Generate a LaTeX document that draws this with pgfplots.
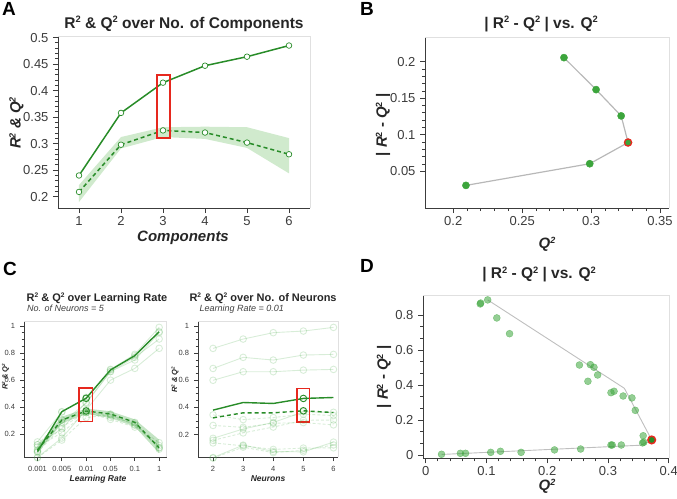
\documentclass[border=0pt]{standalone}
\usepackage{fontspec}
\setmainfont{Liberation Sans}
\usepackage{pgfplots}
\pgfplotsset{compat=1.18}
\definecolor{mg}{RGB}{40,140,40}
\definecolor{pg}{RGB}{60,165,60}
\definecolor{rd}{RGB}{230,40,30}
\definecolor{ax}{RGB}{60,60,60}
\definecolor{band}{RGB}{208,234,205}
\definecolor{fg}{RGB}{60,165,60}
\newcommand{\fs}[1]{\fontsize{#1}{#1}\selectfont}
\newcommand{\sq}{\raisebox{0.62ex}{\scalebox{0.6}{2}}}
\pgfplotsset{
  base/.style={scale only axis, anchor=south west,
    axis x line*=bottom, axis y line*=left,
    axis line style={ax, line width=0.8pt},
    tick align=outside, tick style={ax, line width=0.8pt},
    major tick length=5pt, minor tick length=3pt,
    tick label style={color=ax},
    /pgf/number format/assume math mode=true,
    /pgf/number format/fixed,
    clip=false,
    after end axis/.code={\draw[black!12, line width=0.8pt] (rel axis cs:0,1) -- (rel axis cs:1,1) -- (rel axis cs:1,0);}
  },
  faint/.style={fg, opacity=0.2, line width=0.9pt, mark=o, mark size=3.3pt},
  faintd/.style={fg, opacity=0.2, line width=0.9pt, dash pattern=on 3pt off 2pt, mark=o, mark size=3.3pt, mark options={solid}},
}
\begin{document}
\begin{tikzpicture}[x=1pt,y=1pt]

% ---------------- Panel A ----------------
\begin{axis}[base, at={(58pt,-208pt)}, width=252pt, height=172pt,
  xmin=0.5, xmax=6.5, ymin=0.1787, ymax=0.503,
  xtick={1,2,3,4,5,6}, ytick={0.2,0.25,0.3,0.35,0.4,0.45,0.5},
  minor y tick num=4, tick label style={font=\fs{13}},
  yticklabel style={xshift=-1pt}]
\addplot[fill=band, draw=none] coordinates {(1,0.222)(2,0.3125)(3,0.331)(4,0.332)(5,0.331)(6,0.3105)(6,0.244)(5,0.292)(4,0.309)(3,0.3125)(2,0.291)(1,0.19)};
\addplot[mg, line width=1.5pt, mark=*, mark size=2.8pt, mark options={fill=white, draw=mg, line width=0.7pt}]
  coordinates {(1,0.240)(2,0.358)(3,0.415)(4,0.447)(5,0.464)(6,0.485)};
\addplot[mg, line width=1.5pt, dash pattern=on 4pt off 3pt, mark=*, mark size=2.8pt, mark options={solid, fill=white, draw=mg, line width=0.7pt}]
  coordinates {(1,0.209)(2,0.298)(3,0.325)(4,0.321)(5,0.302)(6,0.280)};
\draw[rd, line width=1.7pt] (axis cs:2.85,0.311) rectangle (axis cs:3.17,0.43);
\end{axis}

% ---------------- Panel B ----------------
\begin{axis}[base, at={(425pt,-208pt)}, width=244pt, height=171pt,
  xmin=0.1795, xmax=0.3565, ymin=0, ymax=0.2337,
  xtick={0.2,0.25,0.3,0.35}, ytick={0.05,0.1,0.15,0.2},
  minor x tick num=4, minor y tick num=4, tick label style={font=\fs{13}},
  yticklabel style={xshift=-1pt}]
\addplot[black!28, line width=1.2pt] coordinates {(0.2092,0.0309)(0.2990,0.0605)(0.3268,0.0895)(0.3218,0.1259)(0.3036,0.1618)(0.2803,0.2055)};
\addplot[only marks, mark=*, mark size=3.6pt, pg] coordinates {(0.2092,0.0309)(0.2990,0.0605)(0.3218,0.1259)(0.3036,0.1618)(0.2803,0.2055)};
\addplot[only marks, mark=*, mark size=3.6pt, mark options={fill=pg, draw=rd, line width=1.3pt}] coordinates {(0.3268,0.0895)};
\end{axis}

% ---------------- Panel C left ----------------
\begin{axis}[base, at={(24pt,-457pt)}, width=142.7pt, height=136pt,
  xmin=-0.554, xmax=5.31, ymin=0.032, ymax=1.037,
  xtick={0,1,2,3,4,5}, xticklabels={0.001,0.005,0.01,0.05,0.1,1},
  ytick={0.2,0.4,0.6,0.8,1}, minor y tick num=3,
  major tick length=4pt, minor tick length=2.5pt,
  tick label style={font=\fs{7.5}},
  xticklabel style={yshift=-1.5pt}, yticklabel style={xshift=-1.5pt}]
\addplot[fill=fg, opacity=0.3, draw=none] coordinates {(0,0.11)(1,0.33)(2,0.39)(3,0.37)(4,0.31)(5,0.16)(5,0.06)(4,0.256)(3,0.32)(2,0.35)(1,0.28)(0,0.06)};
% faint R2 series (neurons 2,3,4,6)
\addplot[faint] coordinates {(0,0.03)(1,0.172)(2,0.38)(3,0.60)(4,0.687)(5,0.835)};
\addplot[faint] coordinates {(0,0.122)(1,0.241)(2,0.436)(3,0.663)(4,0.769)(5,0.904)};
\addplot[faint] coordinates {(0,0.075)(1,0.289)(2,0.429)(3,0.663)(4,0.749)(5,0.951)};
\addplot[faint] coordinates {(0,0.144)(1,0.364)(2,0.473)(3,0.68)(4,0.791)(5,0.99)};
\addplot[faint, draw=none] coordinates {(0,0.072)(1,0.367)(2,0.466)(3,0.675)(4,0.781)(5,0.958)};
% faint Q2 series
\addplot[faintd] coordinates {(0,0.026)(1,0.157)(2,0.323)(3,0.345)(4,0.267)(5,0.138)};
\addplot[faintd] coordinates {(0,0.107)(1,0.212)(2,0.36)(3,0.31)(4,0.253)(5,0.117)};
\addplot[faintd] coordinates {(0,0.066)(1,0.255)(2,0.36)(3,0.325)(4,0.283)(5,0.09)};
\addplot[faintd] coordinates {(0,0.123)(1,0.307)(2,0.362)(3,0.34)(4,0.271)(5,0.102)};
\addplot[faint, draw=none] coordinates {(0,0.084)(1,0.305)(2,0.372)(3,0.35)(4,0.288)(5,0.10)};
% main
\addplot[mg, line width=1.4pt] coordinates {(0,0.072)(1,0.367)(2,0.466)(3,0.675)(4,0.781)(5,0.958)};
\addplot[mg, line width=1.4pt, dash pattern=on 4pt off 3pt] coordinates {(0,0.084)(1,0.305)(2,0.372)(3,0.35)(4,0.288)(5,0.10)};
\addplot[only marks, mark=o, mark size=3.3pt, mg, line width=0.9pt] coordinates {(2,0.466)(2,0.372)};
\draw[rd, line width=1.7pt] (axis cs:1.72,0.294) rectangle (axis cs:2.26,0.54);
\end{axis}

% ---------------- Panel C right ----------------
\begin{axis}[base, at={(198pt,-457.3pt)}, width=140pt, height=136.3pt,
  xmin=1.5, xmax=6.15, ymin=0.032, ymax=1.037,
  xtick={2,3,4,5,6},
  ytick={0.2,0.4,0.6,0.8,1}, minor y tick num=3,
  major tick length=4pt, minor tick length=2.5pt,
  tick label style={font=\fs{7.5}},
  xticklabel style={yshift=-1.5pt}, yticklabel style={xshift=-1.5pt}]
\addplot[faint] coordinates {(2,0.03)(3,0.122)(4,0.075)(5,0.072)(6,0.144)};
\addplot[faint] coordinates {(2,0.172)(3,0.241)(4,0.289)(5,0.367)(6,0.364)};
\addplot[faint] coordinates {(2,0.60)(3,0.663)(4,0.663)(5,0.675)(6,0.68)};
\addplot[faint] coordinates {(2,0.687)(3,0.769)(4,0.749)(5,0.786)(6,0.791)};
\addplot[faint] coordinates {(2,0.835)(3,0.904)(4,0.951)(5,0.963)(6,0.99)};
\addplot[faintd] coordinates {(2,0.026)(3,0.107)(4,0.066)(5,0.084)(6,0.123)};
\addplot[faintd] coordinates {(2,0.157)(3,0.212)(4,0.255)(5,0.305)(6,0.307)};
\addplot[faintd] coordinates {(2,0.345)(3,0.31)(4,0.325)(5,0.35)(6,0.34)};
\addplot[faintd] coordinates {(2,0.267)(3,0.253)(4,0.283)(5,0.288)(6,0.271)};
\addplot[faintd] coordinates {(2,0.138)(3,0.117)(4,0.09)(5,0.10)(6,0.102)};
\addplot[mg, line width=1.4pt] coordinates {(2,0.38)(3,0.436)(4,0.429)(5,0.466)(6,0.473)};
\addplot[mg, line width=1.4pt, dash pattern=on 4pt off 3pt] coordinates {(2,0.323)(3,0.36)(4,0.36)(5,0.375)(6,0.362)};
\addplot[only marks, mark=o, mark size=3.3pt, mg, line width=0.9pt] coordinates {(5,0.466)(5,0.375)};
\draw[rd, line width=1.7pt] (axis cs:4.79,0.294) rectangle (axis cs:5.2,0.54);
\end{axis}

% ---------------- Panel D ----------------
\begin{axis}[base, at={(423pt,-458.3pt)}, width=246pt, height=162.6pt,
  xmin=-0.0045, xmax=0.4005, ymin=-0.019, ymax=0.91,
  xtick={0,0.1,0.2,0.3,0.4}, ytick={0,0.2,0.4,0.6,0.8},
  minor x tick num=4, minor y tick num=2, tick label style={font=\fs{13}},
  yticklabel style={xshift=-1pt}]
\addplot[black!25, line width=0.9pt] coordinates {(0.026,0.003)(0.355,0.056)(0.372,0.086)(0.327,0.381)(0.102,0.886)};
\addplot[only marks, mark=*, mark size=3.5pt, pg, opacity=0.55] coordinates {
 (0.0897,0.863)(0.0905,0.868)(0.102,0.886)(0.117,0.783)(0.138,0.693)
 (0.253,0.514)(0.271,0.516)(0.277,0.501)(0.283,0.457)(0.267,0.421)
 (0.305,0.356)(0.310,0.364)(0.325,0.337)(0.3395,0.326)(0.345,0.255)(0.358,0.110)
 (0.026,0.004)(0.057,0.0095)(0.0655,0.0095)(0.107,0.015)(0.123,0.021)(0.157,0.015)
 (0.212,0.029)(0.255,0.034)(0.305,0.057)(0.307,0.057)(0.322,0.057)(0.357,0.069)(0.359,0.073)};
\addplot[only marks, mark=*, mark size=3.8pt, mark options={fill=mg, draw=rd, line width=1.5pt}] coordinates {(0.372,0.086)};
\end{axis}

% ---------------- Text ----------------
\node[anchor=base west, inner sep=0, font=\fs{19}\bfseries] at (2,-15) {A};
\node[anchor=base west, inner sep=0, font=\fs{19}\bfseries] at (360,-15) {B};
\node[anchor=base west, inner sep=0, font=\fs{19}\bfseries] at (3,-275) {C};
\node[anchor=base west, inner sep=0, font=\fs{19}\bfseries] at (360,-272) {D};

\node[anchor=base, inner sep=0, font=\fs{15.5}\bfseries, text=black!85] at (184,-28) {R\sq{} \& Q\sq{} over No. of Components};
\node[anchor=base, inner sep=0, font=\fs{15}\bfseries\itshape, text=black!85] at (183,-241) {Components};
\node[rotate=90, anchor=center, inner sep=0, font=\fs{15}\bfseries\itshape, text=black!85] at (16.5,-123) {R\sq{} \& Q\sq};

\node[anchor=base, inner sep=0, font=\fs{15.5}\bfseries, text=black!85] at (541,-28) {| R\sq{} - Q\sq{} | vs. Q\sq};
\node[anchor=base, inner sep=0, font=\fs{15}\bfseries, text=black!85] at (547,-248) {\itshape Q\sq};
\node[rotate=90, anchor=center, inner sep=0, font=\fs{15}\bfseries, text=black!85] at (383,-125) {| \textit{R}\sq{} - \textit{Q}\sq{} |};

\node[anchor=base west, inner sep=0, font=\fs{11}\bfseries, text=black!85] at (26.5,-301) {R\sq{} \& Q\sq{} over Learning Rate};
\node[anchor=base west, inner sep=0, font=\fs{9}\itshape, text=black!75] at (27,-311.5) {No. of Neurons = 5};
\node[anchor=base west, inner sep=0, font=\fs{11}\bfseries, text=black!85] at (189.3,-301) {R\sq{} \& Q\sq{} over No. of Neurons};
\node[anchor=base west, inner sep=0, font=\fs{9}\itshape, text=black!75] at (199.5,-311.5) {Learning Rate = 0.01};
\node[anchor=base, inner sep=0, font=\fs{8.5}\bfseries\itshape, text=black!85] at (98,-481) {Learning Rate};
\node[anchor=base, inner sep=0, font=\fs{8.5}\bfseries\itshape, text=black!85] at (268,-481) {Neurons};
\node[rotate=90, anchor=center, inner sep=0, font=\fs{7.5}\bfseries\itshape, text=black!85] at (5.5,-377) {R\sq{} \& Q\sq};
\node[rotate=90, anchor=center, inner sep=0, font=\fs{7.5}\bfseries\itshape, text=black!85] at (175,-380) {R\sq{} \& Q\sq};

\node[anchor=base, inner sep=0, font=\fs{15.5}\bfseries, text=black!85] at (539,-278.3) {| R\sq{} - Q\sq{} | vs. Q\sq};
\node[anchor=base, inner sep=0, font=\fs{15}\bfseries, text=black!85] at (547,-490) {\itshape Q\sq};
\node[rotate=90, anchor=center, inner sep=0, font=\fs{15}\bfseries, text=black!85] at (384,-377) {| \textit{R}\sq{} - \textit{Q}\sq{} |};

\pgfresetboundingbox
\path[use as bounding box] (0,0) rectangle (677,-498);
\end{tikzpicture}
\end{document}
